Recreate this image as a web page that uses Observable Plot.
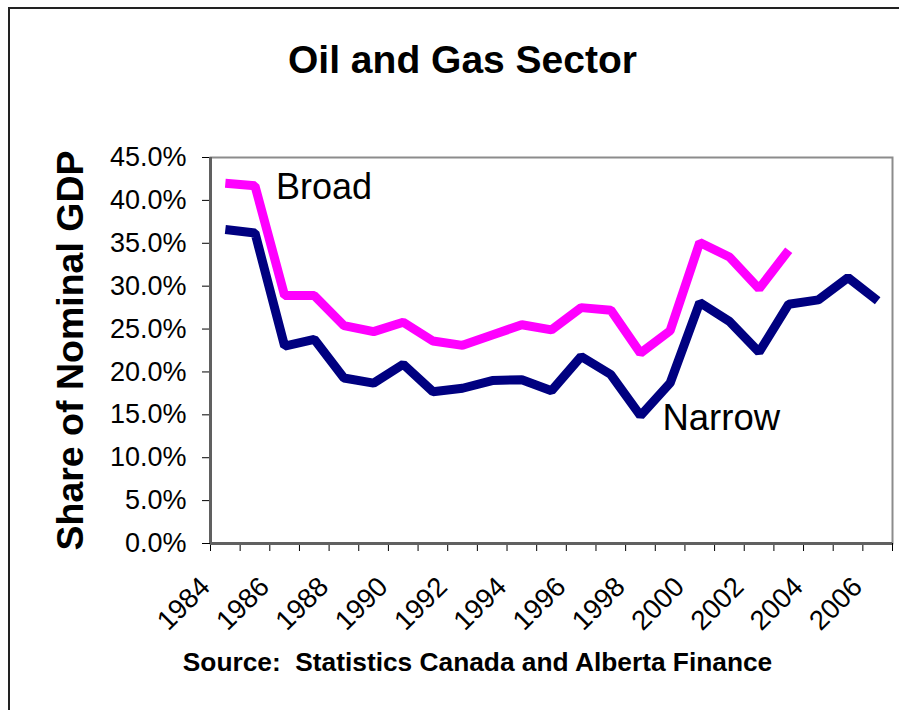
<!DOCTYPE html>
<html>
<head>
<meta charset="utf-8">
<script src="https://cdn.jsdelivr.net/npm/d3@7"></script>
<script src="https://cdn.jsdelivr.net/npm/@observablehq/plot@0.6"></script>
<style>
  html, body { margin: 0; padding: 0; background: #fff; overflow: hidden; }
  #wrap { position: relative; width: 899px; height: 710px; }
  #border { position: absolute; left: 8px; top: 7px; width: 1200px; height: 1200px;
            border-left: 2px solid #222; border-top: 2px solid #222; }
  #chart { position: absolute; left: 0; top: 0; }
</style>
</head>
<body>
<div id="wrap"><div id="border"></div><div id="chart"></div></div>
<script>
const years = [1984,1985,1986,1987,1988,1989,1990,1991,1992,1993,1994,1995,1996,1997,1998,1999,2000,2001,2002,2003,2004,2005,2006];
const broad = [42.0,41.7,28.9,28.9,25.4,24.7,25.8,23.6,23.1,24.3,25.5,24.9,27.5,27.2,22.2,24.8,35.1,33.4,29.7,34.2];
const narrow = [36.6,36.2,23.0,23.8,19.3,18.7,20.9,17.7,18.1,19.0,19.1,17.8,21.8,19.7,14.9,18.7,28.1,25.9,22.3,27.9,28.4,31.0,28.3];
const tickYears = [1984,1985,1986,1987,1988,1989,1990,1991,1992,1993,1994,1995,1996,1997,1998,1999,2000,2001,2002,2003,2004,2005,2006,2007];
const labelYears = [1984,1986,1988,1990,1992,1994,1996,1998,2000,2002,2004,2006];
const yTicks = [0,5,10,15,20,25,30,35,40,45];

const titleText = "Oil and Gas Sector";
const yTitle = "Share of Nominal GDP";
const sourceText = "Source:  Statistics Canada and Alberta Finance";

const broadRows = broad.map((v, i) => ({year: years[i], value: v}));
const narrowRows = narrow.map((v, i) => ({year: years[i], value: v}));
const xc = d => d.year + 0.5;

const font = "'Liberation Sans', Arial, Helvetica, sans-serif";

const chart = Plot.plot({
  width: 899,
  height: 710,
  marginLeft: 210,
  marginRight: 7,
  marginTop: 157,
  marginBottom: 167,
  style: {fontFamily: font, fontSize: "27px", color: "#000", background: "transparent"},
  x: {type: "linear", domain: [1984, 2007]},
  y: {domain: [0, 45]},
  marks: [
    Plot.frame({stroke: "#8c8c8c", strokeWidth: 2}),
    Plot.axisY({ticks: yTicks, tickSize: 8, tickPadding: 16, fontSize: 27,
                tickFormat: d => d.toFixed(1) + "%", label: null}),
    Plot.axisX({ticks: tickYears, tickSize: 8, tickFormat: () => "", label: null}),
    Plot.text(labelYears, {x: d => d, text: d => String(d), frameAnchor: "bottom",
               rotate: -45, textAnchor: "end", lineAnchor: "bottom", dx: 1, dy: 45, fontSize: 27.5}),
    Plot.ruleX([1984], {stroke: "#606060", strokeWidth: 3}),
    Plot.ruleY([0], {stroke: "#606060", strokeWidth: 3}),
    Plot.line(broadRows, {x: xc, y: "value", stroke: "#FF00FF", strokeWidth: 9,
               strokeLinejoin: "miter", strokeLinecap: "butt"}),
    Plot.line(narrowRows, {x: xc, y: "value", stroke: "#000080", strokeWidth: 9,
               strokeLinejoin: "miter", strokeLinecap: "butt"}),
    Plot.text([broadRows[1]], {x: xc, y: "value", text: () => "Broad", textAnchor: "start",
               lineAnchor: "bottom", dx: 21, dy: 13, fontSize: 36}),
    Plot.text([narrowRows[14]], {x: xc, y: "value", text: () => "Narrow", textAnchor: "start",
               lineAnchor: "bottom", dx: 22, dy: 14, fontSize: 36.5}),
    Plot.text([titleText], {frameAnchor: "top", text: d => d, dx: -89, dy: -85,
               lineAnchor: "bottom", fontSize: 39, fontWeight: "bold"}),
    Plot.text([yTitle], {frameAnchor: "left", text: d => d, rotate: -90, dx: -128,
               lineAnchor: "bottom", textAnchor: "middle", fontSize: 37.5, fontWeight: "bold"}),
    Plot.text([sourceText], {frameAnchor: "bottom", text: d => d, dx: -74, dy: 127,
               lineAnchor: "bottom", fontSize: 26.3, fontWeight: "bold"})
  ]
});
document.getElementById("chart").appendChild(chart);
</script>
</body>
</html>
